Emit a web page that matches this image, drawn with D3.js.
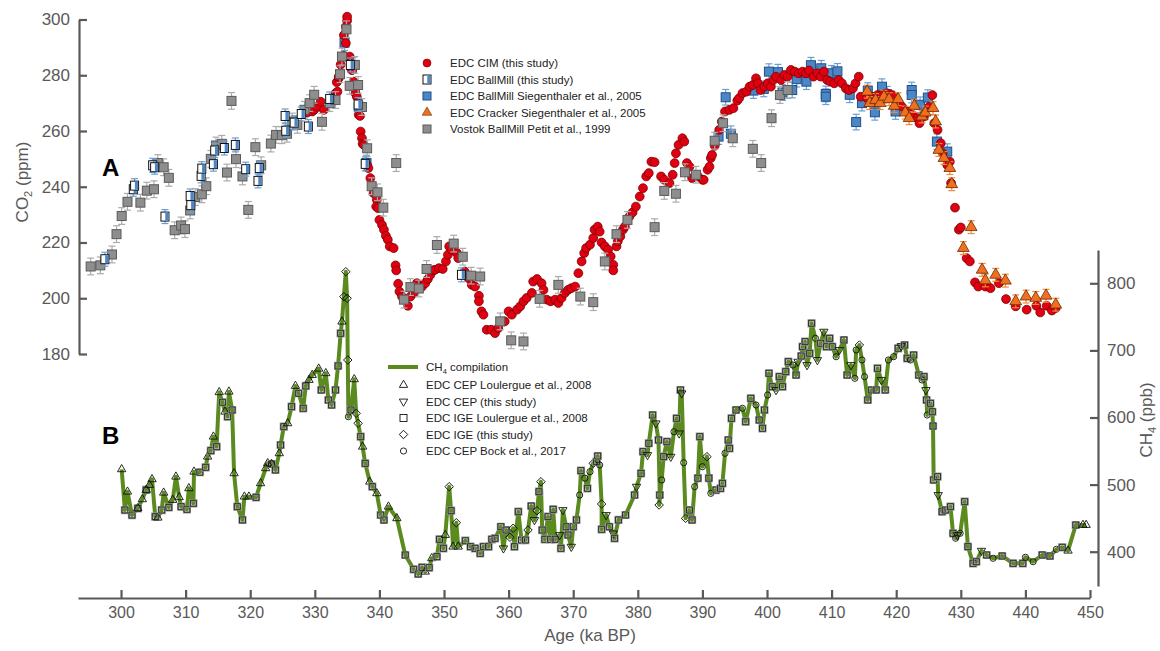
<!DOCTYPE html>
<html><head><meta charset="utf-8">
<script src="https://cdn.jsdelivr.net/npm/d3@7"></script>
<style>
body{margin:0;background:#fff;}
svg text{font-family:"Liberation Sans",Arial,sans-serif;}
</style>
</head><body>
<svg id="chart" width="1160" height="651"></svg>
<script>
// ---------------- DATA ----------------
const xTicks = [300,310,320,330,340,350,360,370,380,390,400,410,420,430,440,450];
const co2Ticks = [180,200,220,240,260,280,300];
const ch4Ticks = [400,500,600,700,800];

// EDC CIM (this study) – [age ka, CO2 ppm]
const cimCO2 = [[328.8,266.6],[329.6,267.0],[329.9,267.6],[330.4,268.7],[330.9,270.5],[331.4,267.6],[333.2,273.5],[333.4,277.5],[333.5,274.1],[333.7,278.9],[333.7,279.5],[334.0,283.8],[334.4,287.0],[334.5,294.4],[334.8,291.5],[334.8,297.4],[335.0,299.6],[335.0,301.0],[335.4,286.7],[335.7,281.9],[335.8,281.9],[336.0,277.7],[336.3,275.3],[336.3,273.5],[336.5,272.3],[336.8,265.8],[337.0,265.4],[337.1,259.8],[337.3,257.4],[337.4,255.4],[337.6,255.0],[337.9,248.2],[338.1,247.8],[338.3,246.7],[338.6,243.1],[339.1,237.7],[339.6,235.3],[339.5,232.9],[339.8,232.3],[340.0,228.1],[340.4,226.3],[340.7,224.6],[341.0,222.4],[341.3,221.0],[341.6,218.6],[342.2,218.0],[342.5,211.8],[342.6,210.0],[342.9,205.2],[343.1,202.4],[343.5,200.6],[344.4,197.3],[344.8,200.6],[345.3,201.9],[345.8,205.4],[346.6,204.2],[347.1,205.4],[347.5,206.9],[347.9,208.4],[348.3,210.0],[348.6,210.2],[349.2,210.8],[349.8,210.5],[350.3,213.2],[350.6,215.6],[350.8,218.6],[351.2,217.4],[352.0,216.2],[352.2,214.4],[353.2,209.6],[353.8,207.2],[354.3,204.8],[354.8,204.2],[355.4,200.9],[355.4,198.9],[355.8,195.3],[356.1,194.1],[356.6,188.7],[357.3,188.7],[357.9,187.5],[358.4,189.3],[359.4,191.7],[360.0,195.3],[360.5,194.1],[361.3,195.9],[361.8,197.1],[362.3,198.9],[362.8,200.1],[363.6,201.9],[363.8,206.0],[364.4,206.9],[365.1,205.4],[365.4,203.0],[365.9,199.5],[366.5,198.9],[367.2,199.5],[367.7,198.3],[368.2,200.1],[368.7,201.9],[369.2,203.0],[369.7,203.6],[370.3,204.2],[370.8,209.0],[371.3,213.2],[371.7,216.2],[372.0,218.0],[372.6,219.2],[373.1,221.6],[373.3,224.6],[373.8,225.7],[374.1,223.9],[374.4,220.0],[374.9,218.6],[375.4,217.4],[375.8,215.0],[376.2,212.0],[376.2,210.0],[376.7,218.6],[376.9,220.4],[377.3,222.2],[377.7,224.6],[378.0,225.7],[378.7,229.3],[379.2,230.8],[379.7,232.9],[380.3,236.5],[380.8,239.5],[381.3,243.7],[381.7,244.9],[382.1,249.0],[382.6,248.8],[383.6,243.7],[384.1,242.5],[384.9,241.3],[385.4,244.3],[385.7,248.5],[385.9,252.0],[386.3,255.0],[386.9,257.4],[387.2,256.2],[387.6,248.5],[388.0,247.2],[388.4,243.1],[389.3,243.7],[390.0,242.5],[390.2,242.5],[390.8,246.1],[391.1,247.2],[391.3,250.3],[391.5,251.4],[391.9,254.7],[392.6,260.4],[393.0,263.4],[393.5,267.0],[394.2,267.6],[394.8,268.2],[395.4,270.9],[395.7,271.8],[396.2,273.6],[396.8,274.1],[397.3,275.9],[397.8,276.5],[398.3,278.9],[398.6,277.1],[399.0,274.7],[399.6,275.9],[400.1,277.1],[400.6,275.9],[401.0,278.3],[401.4,279.5],[402.2,278.3],[402.7,280.1],[403.2,279.5],[403.7,281.9],[404.3,281.3],[404.9,280.7],[405.5,281.3],[406.0,280.7],[406.5,281.7],[407.2,279.5],[407.8,280.7],[408.3,279.5],[408.8,281.3],[409.3,278.3],[409.8,277.7],[410.4,277.1],[411.1,278.3],[411.6,277.1],[412.2,275.3],[412.7,274.7],[413.3,275.3],[413.7,277.1],[414.2,279.5],[414.5,272.3],[415.5,271.8],[416.3,272.3],[417.1,272.9],[417.8,272.9],[418.6,273.5],[419.4,272.9],[420.2,269.4],[420.9,268.7],[421.7,267.0],[422.5,265.8],[423.3,264.6],[423.6,262.8],[424.3,265.2],[425.1,268.7],[425.6,272.9],[425.9,262.8],[426.4,260.4],[426.9,255.6],[427.2,252.0],[427.9,247.8],[428.3,249.0],[428.5,241.3],[429.1,232.5],[429.7,224.6],[430.0,225.4],[430.9,214.4],[431.4,213.2],[432.2,205.7],[432.7,204.2],[433.8,204.2],[434.6,203.6],[435.9,205.4],[437.0,199.7],[438.5,197.1],[440.2,195.9],[441.7,197.3],[442.3,194.9],[443.3,197.3],[444.1,195.6],[444.7,196.5]];

// EDC BallMill (this study)
const ballMillThis = [[297.5,214.0],[301.9,239.1],[302.1,240.4],[304.9,247.7],[305.2,247.0],[306.8,229.3],[310.7,236.7],[310.8,233.4],[312.4,243.9],[312.5,246.5],[314.3,248.1],[314.5,253.0],[316.0,253.9],[317.7,255.0],[319.3,246.3],[321.2,242.1],[321.4,246.7],[325.4,265.4],[325.5,260.1],[326.8,263.0],[327.9,266.1],[329.0,261.6],[332.3,271.5],[335.5,283.7],[336.7,269.5],[337.8,248.2],[352.7,208.4]];

// EDC BallMill Siegenthaler et al., 2005
const ballMillSieg = [[334.6,291.7],[336.0,283.7],[336.8,268.7],[338.0,248.5],[392.5,258.0],[393.6,272.1],[394.4,259.0],[397.9,274.5],[399.5,275.1],[400.3,281.3],[401.7,281.1],[402.4,273.8],[403.9,274.7],[404.6,278.6],[406.1,277.7],[406.8,283.6],[408.4,282.5],[409.1,273.3],[409.1,272.3],[410.0,280.7],[410.9,281.4],[412.8,273.0],[413.8,263.2],[414.7,270.0],[415.6,274.5],[416.7,266.7],[417.8,275.9],[418.6,273.2],[419.9,267.0],[422.4,274.7],[422.4,272.9],[423.7,269.4],[424.9,272.0],[426.3,256.2],[427.9,252.6]];

// EDC Cracker Siegenthaler et al., 2005
const crackerSieg = [[415.5,274.1],[415.9,270.0],[416.8,271.1],[417.5,270.0],[418.1,272.3],[418.9,271.4],[419.7,269.0],[420.3,271.4],[421.4,266.6],[422.0,264.6],[422.8,269.0],[424.0,265.2],[424.5,266.6],[425.7,268.2],[426.1,263.4],[426.6,253.2],[427.4,250.3],[428.3,246.7],[428.6,240.9],[430.4,218.0],[431.6,225.5],[433.3,210.2],[433.8,206.4],[435.4,208.4],[436.9,206.3],[438.5,198.9],[440.1,200.6],[441.6,200.1],[443.2,200.9],[444.7,197.7]];

// Vostok BallMill Petit et al., 1999
const vostokPetit = [[295.3,211.4],[296.8,211.8],[298.6,215.7],[299.3,223.0],[300.1,229.5],[301.0,234.6],[303.0,234.3],[304.0,238.6],[305.1,239.1],[305.7,248.5],[306.6,247.0],[307.4,243.2],[308.3,224.4],[309.3,226.1],[309.9,224.8],[310.7,231.5],[311.5,236.3],[312.5,237.3],[313.2,240.2],[313.9,250.0],[314.7,254.8],[315.6,255.4],[316.4,245.1],[317.1,270.8],[317.8,249.9],[318.8,243.7],[319.7,231.7],[320.8,254.2],[321.7,247.7],[323.2,255.5],[324.0,258.6],[324.9,258.5],[325.7,259.0],[326.5,263.4],[327.3,262.2],[328.4,267.6],[329.2,270.0],[329.9,273.0],[331.1,263.3],[332.3,270.0],[333.2,271.1],[333.9,280.4],[334.2,286.7],[334.9,296.5],[335.4,276.2],[336.2,283.7],[336.7,276.5],[337.3,268.6],[338.1,253.8],[338.8,240.2],[339.7,238.0],[340.6,232.5],[342.6,248.5],[343.8,199.5],[344.8,204.0],[346.1,203.5],[347.3,210.5],[348.9,219.1],[351.5,219.6],[352.9,214.9],[354.2,208.1],[355.6,207.8],[358.7,191.7],[360.4,184.9],[362.3,184.5],[364.8,199.8],[367.7,204.8],[371.1,200.6],[373.1,198.6],[374.9,213.2],[376.7,223.0],[378.4,228.1],[382.6,225.5],[384.1,238.5],[385.9,237.5],[387.3,245.2],[389.0,244.3],[391.9,256.5],[393.2,262.8],[394.7,257.4],[397.8,253.6],[399.1,248.5],[400.7,264.6],[402.0,272.9],[403.2,274.7]];

// CH4 compilation – [age ka, CH4 ppb]
const ch4Compilation = [[300.1,522.8],[300.6,462.1],[301.0,489.4],[301.7,454.6],[302.6,464.7],[303.3,478.1],[303.9,492.0],[304.4,499.4],[304.8,507.9],[305.3,452.2],[305.7,450.7],[306.3,462.1],[306.6,487.9],[307.4,466.1],[308.0,477.1],[308.5,511.8],[309.0,481.1],[309.3,467.1],[310.2,463.2],[310.5,494.5],[311.2,472.1],[311.3,519.2],[312.2,518.4],[313.1,525.8],[313.4,541.6],[313.9,550.6],[314.3,571.4],[314.8,556.5],[315.2,637.6],[315.7,622.7],[316.1,608.6],[316.5,601.2],[316.7,638.5],[317.2,611.2],[317.5,516.8],[318.0,467.1],[318.8,447.3],[319.1,482.0],[319.8,482.0],[320.9,481.1],[321.6,501.9],[322.4,524.3],[322.7,531.7],[323.3,530.7],[323.9,521.8],[324.5,546.6],[324.7,559.0],[325.2,586.3],[325.8,591.3],[326.4,616.1],[327.0,647.0],[327.5,636.1],[328.2,613.7],[328.6,647.0],[329.1,655.9],[329.6,663.3],[330.6,672.7],[331.0,641.0],[331.7,665.9],[332.1,626.1],[332.6,618.6],[333.2,641.0],[333.6,676.8],[334.0,725.5],[334.2,742.8],[334.5,780.0],[334.8,817.3],[335.0,777.6],[335.1,685.7],[335.2,601.2],[335.6,611.2],[336.1,656.9],[336.4,606.3],[336.7,591.3],[337.1,571.4],[337.4,556.5],[337.8,531.7],[338.5,504.3],[338.9,496.9],[339.6,487.0],[340.2,454.7],[340.7,447.3],[341.4,467.1],[342.7,449.8],[344.0,395.1],[345.3,373.8],[346.0,366.8],[346.6,376.7],[347.1,370.2],[347.7,376.2],[348.1,390.2],[348.9,392.6],[349.3,418.5],[349.9,405.1],[350.2,424.9],[350.8,496.9],[351.1,461.1],[351.4,407.5],[351.9,443.2],[352.2,407.5],[353.3,416.4],[354.1,407.5],[354.8,405.1],[355.6,397.6],[356.1,407.5],[356.9,407.5],[357.4,418.5],[357.9,420.0],[358.8,437.2],[359.2,405.1],[359.6,432.3],[360.2,421.5],[360.7,434.9],[360.9,407.5],[361.5,459.6],[362.0,417.4],[362.6,417.4],[363.0,432.3],[363.5,468.1],[364.0,447.3],[364.4,461.1],[364.7,489.4],[365.0,504.3],[365.2,432.3],[365.6,418.5],[366.1,452.2],[366.5,418.5],[366.9,463.2],[367.2,418.5],[367.9,424.9],[368.1,405.1],[368.4,462.1],[368.9,437.2],[369.2,424.9],[369.7,407.5],[370.0,437.2],[370.5,447.3],[371.0,484.5],[371.2,520.8],[371.8,509.6],[372.2,494.5],[372.6,519.2],[373.1,531.7],[373.6,534.1],[373.8,542.6],[374.1,529.2],[374.4,471.1],[374.4,433.4],[375.1,454.7],[375.6,437.2],[376.2,427.4],[376.4,420.0],[377.0,447.3],[378.1,454.7],[379.5,484.5],[379.8,496.9],[380.5,516.8],[380.8,549.0],[381.5,544.1],[381.7,561.6],[382.3,603.7],[382.8,591.3],[383.2,566.5],[383.4,484.5],[383.3,469.6],[383.7,506.9],[384.0,541.6],[384.5,563.9],[385.1,541.6],[385.6,578.8],[386.0,598.8],[386.4,576.4],[386.6,641.0],[386.8,636.1],[387.1,532.6],[387.4,449.8],[388.0,462.1],[388.4,447.3],[388.8,496.9],[389.3,509.6],[389.6,571.4],[390.0,526.7],[390.7,541.6],[391.0,509.6],[391.3,487.0],[392.1,491.9],[392.8,494.4],[393.1,501.9],[393.5,546.6],[394.0,566.5],[394.2,554.1],[394.5,598.8],[395.2,611.2],[396.2,613.7],[396.7,593.7],[397.5,628.6],[398.3,618.6],[398.8,596.3],[399.3,583.9],[399.6,611.2],[400.1,633.5],[400.3,665.9],[400.8,645.9],[401.4,641.0],[401.9,660.8],[402.4,645.9],[402.9,668.3],[403.3,683.2],[404.0,678.2],[404.5,663.3],[404.8,683.2],[405.3,691.6],[405.5,705.5],[405.9,713.0],[406.2,678.2],[406.6,695.7],[406.9,740.4],[407.5,718.0],[407.8,685.7],[408.3,710.6],[408.8,727.9],[409.2,705.5],[409.7,718.0],[410.1,705.5],[410.7,690.6],[411.2,700.6],[411.9,715.5],[412.4,663.3],[413.0,678.2],[413.6,658.4],[413.8,700.6],[414.3,708.0],[414.7,685.7],[415.1,660.8],[415.6,626.1],[416.2,641.0],[416.9,641.0],[417.1,673.3],[417.7,655.9],[418.3,641.0],[418.8,685.7],[419.6,690.6],[420.3,703.1],[420.8,706.6],[421.3,708.0],[421.7,688.2],[422.2,685.7],[422.7,693.1],[423.5,663.3],[424.0,655.9],[424.3,660.8],[424.6,641.0],[424.7,626.1],[424.8,603.7],[425.3,621.2],[425.6,608.6],[425.7,587.3],[425.8,506.9],[426.4,511.8],[426.5,484.5],[427.1,459.6],[427.6,462.1],[428.4,467.1],[428.8,427.4],[429.2,420.0],[429.5,424.9],[429.9,427.4],[430.6,474.5],[431.1,407.5],[431.9,382.7],[432.4,385.1],[433.2,401.5],[434.0,395.1],[435.0,390.2],[436.4,393.6],[438.1,382.7],[439.6,382.7],[440.0,391.7],[441.2,385.1],[442.6,395.1],[443.8,393.6],[444.8,403.6],[445.7,406.6],[446.6,401.5],[447.8,439.8],[448.9,439.8],[449.4,439.8]];

// source of each compilation point: t = EDC CEP Loulergue 2008, v = EDC CEP (this study),
// s = EDC IGE Loulergue 2008, d = EDC IGE (this study), o = EDC CEP Bock 2017
const ch4Source = ["t","s","t","s","ts","t","ts","t","t","s","t","s","t","s","t","t","t","s","s","t","s","t","s","s","t","s","t","s","t","s","t","s","t","s","t","s","s","t","t","s","t","t","t","ts","s","t","s","s","t","s","t","s","s","s","t","t","t","s","t","s","s","s","s","s","t","d","d","d","d","o","s","t","d","d","s","t","s","t","s","t","s","s","t","t","s","s","s","s","t","s","t","s","s","s","t","d","s","t","d","t","s","s","s","s","s","s","s","s","s","v","s","d","d","s","s","s","s","d","s","v","d","s","d","s","s","s","s","s","s","v","s","v","s","s","v","s","s","o","s","o","s","o","d","s","s","o","d","s","v","s","v","s","s","s","s","v","s","s","v","s","s","v","s","s","d","o","s","s","v","o","s","v","s","v","o","d","s","s","o","s","s","o","d","s","o","s","s","s","o","s","s","s","s","o","s","s","o","s","s","s","o","s","s","v","s","s","s","s","o","s","v","s","s","s","v","s","s","o","v","s","v","s","s","s","o","v","s","s","v","o","o","d","o","o","s","s","s","s","v","s","o","o","s","v","s","s","o","s","s","o","s","v","s","o","s","s","s","s","s","v","s","s","s","s","o","v","o","s","s","s","s","v","s","o","s","s","s","o","o","s","s","o","s","t","s","t","t"];

// ---------------- SCALES ----------------
const svg = d3.select("#chart");
const x = d3.scaleLinear().domain([293.34, 450]).range([78, 1090]);
const yC = d3.scaleLinear().domain([180, 300]).range([354, 19.5]);
const yM = d3.scaleLinear().domain([348.9, 849.6]).range([586, 250]);

const axisCol = "#595959", txtCol = "#595959";

function styleAxis(g){
  g.selectAll(".domain").attr("stroke", axisCol).attr("stroke-width", 2.2);
  g.selectAll(".tick line").attr("stroke", axisCol).attr("stroke-width", 2.2);
  g.selectAll(".tick text").attr("fill", txtCol).style("font-size", "17px")
    .style("font-family", '"Liberation Sans",Arial,sans-serif');
}

// axes
const gx = svg.append("g").attr("transform", "translate(0,598)")
  .call(d3.axisBottom(x).tickValues(xTicks).tickSize(-8).tickSizeOuter(0).tickPadding(9).tickFormat(d3.format("d")));
styleAxis(gx);
gx.selectAll(".tick text").style("font-size", "16px");

const gl = svg.append("g").attr("transform", "translate(79,0)")
  .call(d3.axisLeft(yC).tickValues(co2Ticks).tickSize(-8).tickSizeOuter(0).tickPadding(9));
styleAxis(gl);

const gr = svg.append("g").attr("transform", "translate(1098,0)")
  .call(d3.axisRight(yM).tickValues(ch4Ticks).tickSize(-8).tickSizeOuter(0).tickPadding(9));
styleAxis(gr);

// axis titles
svg.append("text").attr("x", 590).attr("y", 641).attr("text-anchor", "middle")
  .attr("fill", txtCol).style("font-size", "17px").text("Age (ka BP)");

const tl = svg.append("text").attr("transform", "translate(28,182) rotate(-90)")
  .attr("text-anchor", "middle").attr("fill", txtCol).style("font-size", "17px");
tl.append("tspan").text("CO");
tl.append("tspan").attr("dy", 4).style("font-size", "11px").text("2");
tl.append("tspan").attr("dy", -4).text(" (ppm)");

const tr = svg.append("text").attr("transform", "translate(1152,420) rotate(-90)")
  .attr("text-anchor", "middle").attr("fill", txtCol).style("font-size", "17px");
tr.append("tspan").text("CH");
tr.append("tspan").attr("dy", 4).style("font-size", "11px").text("4");
tr.append("tspan").attr("dy", -4).text(" (ppb)");

// panel letters
svg.append("text").attr("x", 102).attr("y", 176).style("font-size", "24px").style("font-weight", "bold").attr("fill", "#000").text("A");
svg.append("text").attr("x", 102).attr("y", 444).style("font-size", "24px").style("font-weight", "bold").attr("fill", "#000").text("B");

// ---------------- CH4 ----------------
const ch4Line = d3.line().x(d => x(d[0])).y(d => yM(d[1]));
svg.append("path").datum(ch4Compilation).attr("d", ch4Line)
  .attr("fill", "none").attr("stroke", "#5b8a1f").attr("stroke-width", 4).attr("stroke-linejoin", "round");

const symTri = d3.symbol().type(d3.symbolTriangle).size(30);
const symSq = d3.symbol().type(d3.symbolSquare).size(36);
const symCirc = d3.symbol().type(d3.symbolCircle).size(30);
function drawCh4Marker(g, code, cx, cy){
  if (code === "t") g.append("path").attr("d", symTri()).attr("transform", `translate(${cx},${cy})`)
      .attr("fill", "none").attr("stroke", "#111").attr("stroke-width", 0.9);
  if (code === "v") g.append("path").attr("d", symTri()).attr("transform", `translate(${cx},${cy}) rotate(180)`)
      .attr("fill", "none").attr("stroke", "#111").attr("stroke-width", 0.9);
  if (code === "s") {
    g.append("path").attr("d", symSq()).attr("transform", `translate(${cx},${cy})`)
      .attr("fill", "none").attr("stroke", "#9a9a9a").attr("stroke-width", 2.2);
    g.append("path").attr("d", symSq()).attr("transform", `translate(${cx},${cy})`)
      .attr("fill", "none").attr("stroke", "#111").attr("stroke-width", 0.8);
  }
  if (code === "d") g.append("path").attr("d", symSq()).attr("transform", `translate(${cx},${cy}) rotate(45)`)
      .attr("fill", "none").attr("stroke", "#111").attr("stroke-width", 0.9);
  if (code === "o") g.append("path").attr("d", symCirc()).attr("transform", `translate(${cx},${cy})`)
      .attr("fill", "none").attr("stroke", "#111").attr("stroke-width", 0.9);
}
const gm = svg.append("g");
ch4Compilation.forEach((d, i) => {
  const codes = ch4Source[i] || "s";
  for (const c of codes.split("").reverse()) drawCh4Marker(gm, c, x(d[0]), yM(d[1]));
});

// ---------------- CO2 ----------------
function errBars(g, data, err, col){
  data.forEach(d => {
    const cx = x(d[0]), y1 = yC(d[1] - err), y2 = yC(d[1] + err);
    g.append("line").attr("x1", cx).attr("x2", cx).attr("y1", y1).attr("y2", y2).attr("stroke", col).attr("stroke-width", 1.2);
    g.append("line").attr("x1", cx - 3.5).attr("x2", cx + 3.5).attr("y1", y1).attr("y2", y1).attr("stroke", col).attr("stroke-width", 1.2);
    g.append("line").attr("x1", cx - 3.5).attr("x2", cx + 3.5).attr("y1", y2).attr("y2", y2).attr("stroke", col).attr("stroke-width", 1.2);
  });
}
const gco = svg.append("g");

// blue Siegenthaler
errBars(gco, ballMillSieg, 2.8, "#6a9fd6");
gco.selectAll(".bms").data(ballMillSieg).enter().append("rect")
  .attr("x", d => x(d[0]) - 4.5).attr("y", d => yC(d[1]) - 4.5).attr("width", 9).attr("height", 9)
  .attr("fill", "#4d86c6").attr("stroke", "#1f4f86").attr("stroke-width", 1);

// red circles
gco.selectAll(".cim").data(cimCO2).enter().append("circle")
  .attr("cx", d => x(d[0])).attr("cy", d => yC(d[1])).attr("r", 4.4)
  .attr("fill", "#e00011").attr("stroke", "#7a0000").attr("stroke-width", 0.8);

// orange triangles
errBars(gco, crackerSieg, 2.3, "#f28a3c");
const symTriO = d3.symbol().type(d3.symbolTriangle).size(60);
gco.selectAll(".crk").data(crackerSieg).enter().append("path")
  .attr("d", symTriO()).attr("transform", d => `translate(${x(d[0])},${yC(d[1])})`)
  .attr("fill", "#f0701f").attr("stroke", "#6b2a00").attr("stroke-width", 0.8);

// gray Vostok
errBars(gco, vostokPetit, 3, "#ababab");
gco.selectAll(".vos").data(vostokPetit).enter().append("rect")
  .attr("x", d => x(d[0]) - 4.5).attr("y", d => yC(d[1]) - 4.5).attr("width", 9).attr("height", 9)
  .attr("fill", "#8e8e8e").attr("stroke", "#5a5a5a").attr("stroke-width", 1);

// half squares (this study)
errBars(gco, ballMillThis, 2.5, "#6a9fd6");
function halfSquare(g, cx, cy){
  g.append("rect").attr("x", cx - 4).attr("y", cy - 4.5).attr("width", 8).attr("height", 9)
    .attr("fill", "#fff").attr("stroke", "#111").attr("stroke-width", 1);
  g.append("rect").attr("x", cx + 0.3).attr("y", cy - 4).attr("width", 3.2).attr("height", 8)
    .attr("fill", "#4d86c6");
}
ballMillThis.forEach(d => halfSquare(gco, x(d[0]), yC(d[1])));

// ---------------- LEGENDS ----------------
const lg = svg.append("g");
const co2Legend = ["EDC CIM (this study)", "EDC BallMill (this study)", "EDC BallMill Siegenthaler et al., 2005",
  "EDC Cracker Siegenthaler et al., 2005", "Vostok BallMill Petit et al., 1999"];
const ly0 = 63, lstep = 16.5, lmx = 427, ltx = 450;
co2Legend.forEach((t, i) => {
  const cy = ly0 + i * lstep;
  lg.append("text").attr("x", ltx).attr("y", cy + 4).style("font-size", "11.5px").attr("fill", "#222").text(t);
});
lg.append("circle").attr("cx", lmx).attr("cy", ly0).attr("r", 4).attr("fill", "#e00011").attr("stroke", "#7a0000").attr("stroke-width", 0.6);
halfSquare(lg, lmx, ly0 + lstep);
lg.append("rect").attr("x", lmx - 4).attr("y", ly0 + 2 * lstep - 4).attr("width", 8).attr("height", 8).attr("fill", "#4d86c6").attr("stroke", "#1f4f86");
lg.append("path").attr("d", d3.symbol().type(d3.symbolTriangle).size(40)()).attr("transform", `translate(${lmx},${ly0 + 3 * lstep})`)
  .attr("fill", "#f0701f").attr("stroke", "#6b2a00").attr("stroke-width", 0.6);
lg.append("rect").attr("x", lmx - 4).attr("y", ly0 + 4 * lstep - 4).attr("width", 8).attr("height", 8).attr("fill", "#8e8e8e").attr("stroke", "#5a5a5a");

const ch4Legend = [["t","EDC CEP Loulergue et al., 2008"],["v","EDC CEP (this study)"],["s","EDC IGE Loulergue et al., 2008"],
  ["d","EDC IGE (this study)"],["o","EDC CEP Bock et al., 2017"]];
lg.append("line").attr("x1", 388).attr("x2", 418).attr("y1", 367).attr("y2", 367).attr("stroke", "#5b8a1f").attr("stroke-width", 4);
const cl = lg.append("text").attr("x", 426).attr("y", 371).style("font-size", "11.5px").attr("fill", "#222");
cl.append("tspan").text("CH");
cl.append("tspan").attr("dy", 3).style("font-size", "7.5px").text("4");
cl.append("tspan").attr("dy", -3).text(" compilation");
ch4Legend.forEach((d, i) => {
  const cy = 385 + i * 16.5;
  if (d[0] === "s") lg.append("rect").attr("x", 400).attr("y", cy - 3.5).attr("width", 7).attr("height", 7).attr("fill", "none").attr("stroke", "#111").attr("stroke-width", 0.9);
  else drawCh4Marker(lg, d[0], 403.5, cy);
  lg.append("text").attr("x", 426).attr("y", cy + 4).style("font-size", "11.5px").attr("fill", "#222").text(d[1]);
});
</script>
</body></html>
